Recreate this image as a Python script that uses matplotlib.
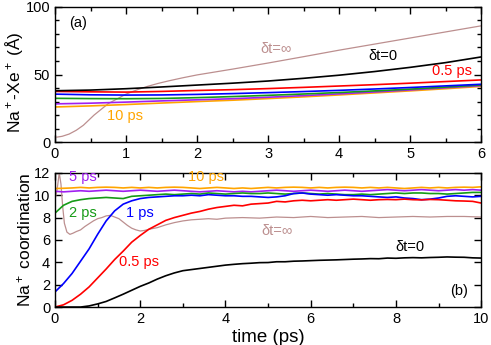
import matplotlib.pyplot as plt
from matplotlib.ticker import MultipleLocator

plt.rcParams['font.family'] = ['Liberation Sans', 'DejaVu Sans']
plt.rcParams['mathtext.fontset'] = 'custom'
plt.rcParams['mathtext.rm'] = 'Liberation Sans'
plt.rcParams['mathtext.it'] = 'Liberation Sans:italic'

# ---- panel (a): Na+-Xe+ distance ----
t_a = [0, 0.5, 1, 1.5, 2, 2.5, 3, 3.5, 4, 4.5, 5, 5.5, 6]
dist_0 = [38.0, 38.5, 39.5, 40.8, 42.2, 43.6, 45.2, 47.2, 49.5, 52.2, 55.3, 58.8, 63.0]
dist_05 = [37.5, 37.2, 37.0, 37.5, 38.2, 38.8, 39.6, 40.5, 41.5, 42.5, 43.6, 44.8, 46.0]
dist_1 = [35.5, 35.0, 34.8, 34.9, 35.3, 35.9, 36.6, 37.4, 38.3, 39.3, 40.4, 41.6, 42.8]
dist_2 = [32.4, 32.2, 32.1, 32.3, 32.9, 33.7, 34.6, 35.6, 36.7, 37.9, 39.2, 40.7, 42.3]
dist_5 = [28.3, 28.8, 29.6, 30.5, 31.3, 32.1, 33.2, 34.4, 35.7, 37.1, 38.6, 40.2, 41.8]
dist_10 = [26.0, 26.8, 27.8, 28.9, 30.0, 31.0, 32.2, 33.5, 34.9, 36.4, 37.9, 39.5, 41.2]
t_a_inf = [0, 0.1, 0.2, 0.3, 0.4, 0.55, 0.75, 1.0, 1.15, 1.3, 1.45, 1.6, 1.8,
           2.0, 2.5, 3.0, 3.5, 4.0, 4.5, 5.0, 5.5, 6.0]
dist_inf = [3.5, 4.3, 6.0, 8.8, 12.5, 20.0, 28.5, 35.5, 38.6, 41.2, 43.4, 45.3, 47.6,
            49.7, 54.0, 58.5, 63.2, 68.0, 72.5, 77.0, 81.5, 86.0]

# ---- panel (b): Na+ coordination ----
t_b = [i * 0.2 for i in range(51)]
coord_0 = [0, 0, 0, 0, 0.1, 0.28, 0.5, 0.82, 1.15, 1.5,
           1.85, 2.15, 2.5, 2.8, 3.05, 3.25, 3.35, 3.45, 3.55, 3.65,
           3.75, 3.82, 3.88, 3.92, 3.97, 3.98, 4.05, 4.05, 4.1, 4.12,
           4.15, 4.18, 4.2, 4.22, 4.25, 4.28, 4.3, 4.33, 4.32, 4.38,
           4.36, 4.4, 4.42, 4.4, 4.43, 4.45, 4.48, 4.46, 4.45, 4.4, 4.38]
coord_05 = [0, 0.2, 0.6, 1.15, 1.8, 2.6, 3.4, 4.25, 5.0, 5.8,
            6.4, 6.95, 7.35, 7.75, 8.0, 8.2, 8.4, 8.55, 8.75, 8.9,
            9.0, 9.1, 9.05, 9.2, 9.25, 9.3, 9.45, 9.4, 9.5, 9.55,
            9.5, 9.55, 9.6, 9.55, 9.6, 9.65, 9.6, 9.55, 9.6, 9.62,
            9.6, 9.65, 9.6, 9.58, 9.62, 9.6, 9.55, 9.5, 9.48, 9.45, 9.3]
coord_1 = [1.35, 2.1, 3.0, 4.1, 5.2, 6.5, 7.7, 8.6, 9.2, 9.5,
           9.7, 9.8, 9.85, 9.9, 9.95, 9.95, 10.0, 9.95, 10.05, 10.0,
           9.95, 9.95, 9.9, 9.9, 9.85, 9.8, 9.85, 9.95, 10.15, 10.2,
           10.1, 10.05, 10.0, 10.05, 10.0, 9.95, 9.95, 9.9, 9.85, 9.8,
           9.85, 9.75, 9.7, 9.6, 9.65, 9.75, 9.9, 9.95, 9.9, 9.85, 9.9]
coord_2 = [8.4, 9.1, 9.45, 9.6, 9.7, 9.75, 9.8, 9.75, 9.7, 9.9,
           9.95, 10.0, 10.05, 10.1, 10.05, 10.1, 10.15, 10.1, 10.2, 10.15,
           10.1, 10.15, 10.2, 10.15, 10.15, 10.2, 10.15, 10.1, 10.15, 10.2,
           10.15, 10.1, 10.15, 10.1, 10.05, 10.05, 10.1, 10.05, 10.1, 10.15,
           10.2, 10.15, 10.2, 10.2, 10.15, 10.15, 10.1, 10.15, 10.2, 10.25, 10.25]
coord_5 = [10.35, 10.3, 10.35, 10.4, 10.35, 10.4, 10.45, 10.4, 10.35, 10.4,
           10.45, 10.4, 10.35, 10.4, 10.45, 10.4, 10.35, 10.3, 10.35, 10.4,
           10.35, 10.3, 10.35, 10.3, 10.35, 10.4, 10.45, 10.4, 10.35, 10.4,
           10.45, 10.4, 10.35, 10.4, 10.45, 10.4, 10.35, 10.4, 10.45, 10.5,
           10.45, 10.4, 10.45, 10.5, 10.45, 10.4, 10.45, 10.5, 10.45, 10.5, 10.45]
coord_10 = [10.6, 10.62, 10.65, 10.7, 10.65, 10.7, 10.72, 10.7, 10.65, 10.7,
            10.65, 10.7, 10.65, 10.7, 10.72, 10.7, 10.65, 10.6, 10.65, 10.7,
            10.65, 10.6, 10.65, 10.6, 10.65, 10.7, 10.65, 10.7, 10.72, 10.7,
            10.65, 10.7, 10.65, 10.7, 10.72, 10.7, 10.65, 10.7, 10.65, 10.7,
            10.65, 10.6, 10.65, 10.7, 10.65, 10.7, 10.65, 10.7, 10.72, 10.7, 10.75]
t_b_inf = [0, 0.05, 0.1, 0.14, 0.18, 0.22, 0.28, 0.35, 0.42, 0.5,
           0.6, 0.7, 0.8, 0.9, 1.0, 1.1, 1.2, 1.3, 1.4, 1.5,
           1.6, 1.7, 1.8, 1.9, 2.0, 2.1, 2.2, 2.4, 2.6, 2.8,
           3.0, 3.2, 3.4, 3.6, 3.8, 4.0, 4.4, 4.8, 5.2, 5.6,
           6.0, 6.4, 6.8, 7.2, 7.6, 8.0, 8.4, 8.8, 9.2, 9.6, 10.0]
coord_inf = [9.6, 10.5, 12.0, 11.0, 9.0, 7.5, 6.7, 6.5, 6.6, 6.75,
             6.9, 7.2, 7.45, 7.7, 7.9, 8.0, 8.15, 8.2, 8.05, 7.9,
             7.6, 7.3, 7.05, 6.9, 6.8, 6.85, 6.95, 7.1, 7.35, 7.55,
             7.7, 7.8, 7.85, 7.9, 7.85, 7.95, 8.0, 7.95, 8.05, 8.0,
             8.1, 8.0, 8.05, 8.1, 8.0, 8.05, 8.1, 8.05, 8.1, 8.1, 8.05]

c_black, c_red, c_blue = 'black', '#ff0000', '#0000ff'
c_green, c_purple, c_orange, c_pink = '#169b16', '#a020f0', '#ffa500', '#bc8f8f'

fig = plt.figure(figsize=(4.91, 3.45), dpi=100)
ax1 = fig.add_axes([0.112, 0.588, 0.868, 0.392])
ax2 = fig.add_axes([0.112, 0.110, 0.868, 0.389])

lw = 1.2
ax1.plot(t_a_inf, dist_inf, color=c_pink, lw=0.9)
ax1.plot(t_a, dist_10, color=c_orange, lw=lw)
ax1.plot(t_a, dist_5, color=c_purple, lw=lw)
ax1.plot(t_a, dist_2, color=c_green, lw=lw)
ax1.plot(t_a, dist_1, color=c_blue, lw=lw)
ax1.plot(t_a, dist_05, color=c_red, lw=lw)
ax1.plot(t_a, dist_0, color=c_black, lw=lw)

ax2.plot(t_b_inf, coord_inf, color=c_pink, lw=0.9)
ax2.plot(t_b, coord_10, color=c_orange, lw=lw)
ax2.plot(t_b, coord_5, color=c_purple, lw=lw)
ax2.plot(t_b, coord_2, color=c_green, lw=lw)
ax2.plot(t_b, coord_1, color=c_blue, lw=lw)
ax2.plot(t_b, coord_05, color=c_red, lw=lw)
ax2.plot(t_b, coord_0, color=c_black, lw=lw)

ax1.set_xlim(0, 6)
ax1.set_ylim(0, 100)
ax1.xaxis.set_major_locator(MultipleLocator(1))
ax1.xaxis.set_minor_locator(MultipleLocator(0.5))
ax1.yaxis.set_major_locator(MultipleLocator(50))
ax1.yaxis.set_minor_locator(MultipleLocator(10))

ax2.set_xlim(0, 10)
ax2.set_ylim(0, 12)
ax2.xaxis.set_major_locator(MultipleLocator(2))
ax2.xaxis.set_minor_locator(MultipleLocator(1))
ax2.yaxis.set_major_locator(MultipleLocator(2))

for ax in (ax1, ax2):
    for s in ax.spines.values():
        s.set_linewidth(1.0)
    ax.tick_params(which='both', direction='in', top=True, right=True,
                   labelsize=10.5, width=1.0)
    ax.tick_params(which='major', length=5)
    ax.tick_params(which='minor', length=3)

ax1.set_ylabel('Na$^+$-Xe$^+$ (Å)', fontsize=12.5)
ax1.yaxis.set_label_coords(-0.07, 0.44)
ax2.set_ylabel('Na$^+$ coordination', fontsize=12.5)
ax2.yaxis.set_label_coords(-0.05, 0.5)
ax2.set_xlabel('time (ps)', fontsize=13.5, labelpad=2)

fs = 10.5
ax1.text(0.33, 88, '(a)', fontsize=fs, ha='center', va='center')
ax1.text(0.99, 19, '10 ps', color=c_orange, fontsize=fs, ha='center', va='center')
ax1.text(3.11, 68.7, 'δt=∞', color=c_pink, fontsize=fs, ha='center', va='center')
ax1.text(4.62, 63.7, 'δt=0', color=c_black, fontsize=fs, ha='center', va='center')
ax1.text(5.59, 52.8, '0.5 ps', color=c_red, fontsize=fs, ha='center', va='center')

ax2.text(0.66, 11.6, '5 ps', color=c_purple, fontsize=fs, ha='center', va='center')
ax2.text(3.55, 11.6, '10 ps', color=c_orange, fontsize=fs, ha='center', va='center')
ax2.text(0.66, 8.4, '2 ps', color=c_green, fontsize=fs, ha='center', va='center')
ax2.text(2.0, 8.4, '1 ps', color=c_blue, fontsize=fs, ha='center', va='center')
ax2.text(1.96, 4.06, '0.5 ps', color=c_red, fontsize=fs, ha='center', va='center')
ax2.text(5.2, 6.8, 'δt=∞', color=c_pink, fontsize=fs, ha='center', va='center')
ax2.text(8.33, 5.4, 'δt=0', color=c_black, fontsize=fs, ha='center', va='center')
ax2.text(9.47, 1.43, '(b)', fontsize=fs, ha='center', va='center')

fig.savefig('out.png', dpi=100)
